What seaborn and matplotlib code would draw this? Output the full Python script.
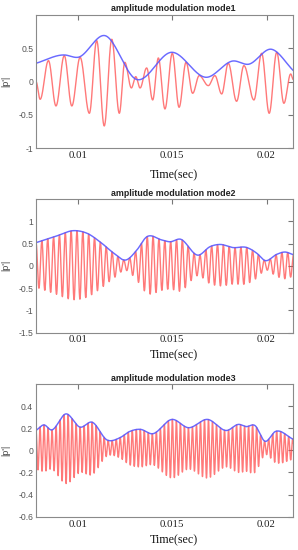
import numpy as np
import pandas as pd
import matplotlib
matplotlib.use("Agg")
import matplotlib.pyplot as plt
import seaborn as sns

# ---------------- data ----------------
# Mode 1: carrier extrema (time, value) and upper envelope control points
m1_ext_t = [0.00777, 0.00799, 0.00843, 0.00883, 0.00927, 0.00967, 0.01011, 0.01060,
            0.01099, 0.01139, 0.01179, 0.01219, 0.01248, 0.01283, 0.01306, 0.01329,
            0.01364, 0.01396, 0.01426, 0.01461, 0.01500, 0.01536, 0.01573, 0.01608,
            0.01643, 0.01691, 0.01726, 0.01762, 0.01797, 0.01841, 0.01880, 0.01933,
            0.01974, 0.02014, 0.02054, 0.02092, 0.02128, 0.02142]
m1_ext_v = [0.0, -0.265, 0.315, -0.365, 0.39, -0.365, 0.365, -0.475,
            0.615, -0.665, 0.635, -0.475, 0.29, -0.095, 0.075, -0.095,
            0.205, -0.275, 0.355, -0.41, 0.425, -0.385, 0.29, -0.175,
            0.09, -0.06, 0.09, -0.185, 0.275, -0.295, 0.24, -0.275,
            0.425, -0.475, 0.44, -0.325, 0.115, 0.03]
m1_env_t = [0.00777, 0.00927, 0.01000, 0.01143, 0.01308, 0.01497, 0.01682,
            0.01823, 0.01903, 0.02027, 0.02142]
m1_env_v = [0.275, 0.40, 0.365, 0.69, 0.035, 0.44, 0.065, 0.31, 0.26, 0.485, 0.165]

# Mode 2: envelope control points (upper = blue line, lower = red troughs)
m2_t = [0.00777, 0.00873, 0.00984, 0.01048, 0.01122, 0.01191, 0.01252, 0.01313,
        0.01361, 0.01445, 0.01488, 0.01541, 0.01639, 0.01700, 0.01753, 0.01822,
        0.01896, 0.01949, 0.01991, 0.02055, 0.02097, 0.02142]
m2_upper = [0.52, 0.65, 0.79, 0.73, 0.52, 0.28, 0.13, 0.36, 0.64, 0.58, 0.54,
            0.60, 0.24, 0.43, 0.48, 0.41, 0.41, 0.28, 0.12, 0.26, 0.31, 0.25]
m2_lower = [-0.48, -0.62, -0.76, -0.70, -0.50, -0.27, -0.10, -0.33, -0.60, -0.55,
            -0.52, -0.57, -0.22, -0.40, -0.45, -0.41, -0.40, -0.27, -0.10, -0.24,
            -0.29, -0.23]
m2_carrier_hz = 3220

# Mode 3
m3_t = [0.00777, 0.00820, 0.00857, 0.00937, 0.01011, 0.01074, 0.01155, 0.01223,
        0.01273, 0.01331, 0.01393, 0.01500, 0.01585, 0.01686, 0.01790, 0.01852,
        0.01892, 0.01938, 0.01992, 0.02046, 0.02142]
m3_upper = [0.18, 0.23, 0.185, 0.33, 0.21, 0.255, 0.093, 0.115, 0.17, 0.19, 0.15,
            0.28, 0.205, 0.28, 0.18, 0.235, 0.215, 0.225, 0.082, 0.17, 0.10]
m3_lower = [-0.17, -0.19, -0.17, -0.30, -0.20, -0.22, -0.05, -0.07, -0.13, -0.15,
            -0.13, -0.25, -0.17, -0.25, -0.15, -0.20, -0.19, -0.20, -0.04, -0.11,
            -0.08]
m3_carrier_hz = 4700

titles = ["amplitude modulation mode1", "amplitude modulation mode2",
          "amplitude modulation mode3"]
ylims = [(-1, 1), (-1.5, 1.5), (-0.6, 0.6)]
yticks = [[-1, -0.5, 0, 0.5], [-1.5, -1, -0.5, 0, 0.5, 1],
          [-0.6, -0.4, -0.2, 0, 0.2, 0.4]]
ytick_labels = [["-1", "-0.5", "0", "0.5"], ["-1.5", "-1", "-0.5", "0", "0.5", "1"],
                ["-0.6", "-0.4", "-0.2", "0", "0.2", "0.4"]]
xticks = [0.01, 0.015, 0.02]
xtick_labels = ["0.01", "0.015", "0.02"]
xlim = (0.00777, 0.02142)


# ---------------- rendering helpers ----------------
def smooth(tk, vk, t):
    tk = np.asarray(tk, float); vk = np.asarray(vk, float)
    m = np.gradient(vk, tk)
    idx = np.clip(np.searchsorted(tk, t) - 1, 0, len(tk) - 2)
    t0, t1 = tk[idx], tk[idx + 1]
    h = t1 - t0
    s = (t - t0) / h
    h00 = 2 * s**3 - 3 * s**2 + 1
    h10 = s**3 - 2 * s**2 + s
    h01 = -2 * s**3 + 3 * s**2
    h11 = s**3 - s**2
    return h00 * vk[idx] + h10 * h * m[idx] + h01 * vk[idx + 1] + h11 * h * m[idx + 1]


def through_extrema(tk, vk, n=30):
    ts, vs = [], []
    for i in range(len(tk) - 1):
        s = np.linspace(0, 1, n, endpoint=False)
        ts.append(tk[i] + (tk[i + 1] - tk[i]) * s)
        vs.append(vk[i] + (vk[i + 1] - vk[i]) * (1 - np.cos(np.pi * s)) / 2)
    ts.append([tk[-1]]); vs.append([vk[-1]])
    return np.concatenate(ts), np.concatenate(vs)


t = np.linspace(xlim[0], xlim[1], 20000)

curves = []
r_t, r_v = through_extrema(m1_ext_t, m1_ext_v)
curves.append((r_t, r_v, t, smooth(m1_env_t, m1_env_v, t)))
for tk, up, lo, f in [(m2_t, m2_upper, m2_lower, m2_carrier_hz),
                      (m3_t, m3_upper, m3_lower, m3_carrier_hz)]:
    U = smooth(tk, up, t)
    L = smooth(tk, lo, t)
    red = L + (U - L) * (1 + np.cos(2 * np.pi * f * (t - xlim[0]))) / 2
    curves.append((t, red, t, U))

# ---------------- figure ----------------
sns.set_style("white")
plt.rcParams["font.family"] = ["Liberation Sans", "DejaVu Sans"]

fig = plt.figure(figsize=(2.98, 5.50), dpi=100)
positions = [[0.1208, 0.7304, 0.8635, 0.2424],
             [0.1208, 0.3951, 0.8635, 0.2431],
             [0.1208, 0.0605, 0.8635, 0.2413]]
xlabel_y = [-0.155, -0.122, -0.135]

for i in range(3):
    ax = fig.add_axes(positions[i])
    rt, rv, bt, bv = curves[i]
    df_r = pd.DataFrame({"t": rt, "v": rv})
    df_b = pd.DataFrame({"t": bt, "v": bv})
    sns.lineplot(data=df_r, x="t", y="v", ax=ax, color="#ff4545", alpha=0.72,
                 linewidth=1.0, estimator=None, sort=False)
    sns.lineplot(data=df_b, x="t", y="v", ax=ax, color="#5a5aff", alpha=0.9,
                 linewidth=1.05, estimator=None, sort=False)
    ax.set_xlim(*xlim)
    ax.set_ylim(*ylims[i])
    ax.set_yticks(yticks[i])
    ax.set_yticklabels(ytick_labels[i], fontsize=6.2, color="#555555")
    ax.set_xticks(xticks)
    ax.set_xticklabels(xtick_labels, fontsize=7.8, color="#222222",
                       family=["Liberation Serif", "DejaVu Serif"])
    ax.tick_params(direction="in", top=True, right=True, length=3.5, width=0.8,
                   color="#777777", pad=2)
    for sp in ax.spines.values():
        sp.set_color("#8a8a8a")
        sp.set_linewidth(0.8)
    ax.set_title(titles[i], fontsize=6.4, fontweight="bold", color="#222222",
                 x=0.535, pad=2.5)
    ax.set_xlabel("Time(sec)", fontsize=8.6, color="#111111",
                  family=["Liberation Serif", "DejaVu Serif"])
    ax.xaxis.set_label_coords(0.535, xlabel_y[i])
    ax.set_ylabel("|p'|", fontsize=6.5, color="#444444")
    ax.yaxis.set_label_coords(-0.10, 0.5)

fig.savefig("out.png", dpi=100)
